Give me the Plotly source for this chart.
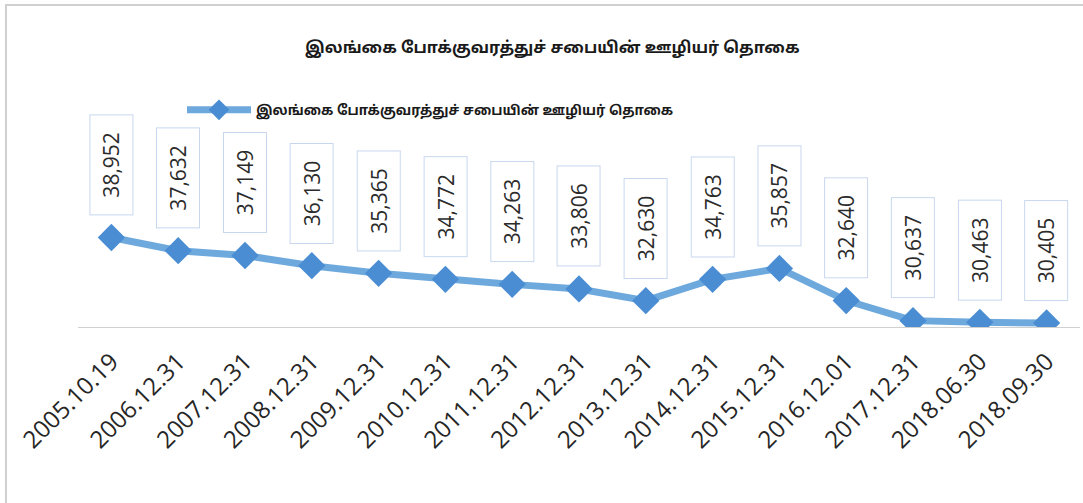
import plotly.graph_objects as go

dates = ["2005.10.19", "2006.12.31", "2007.12.31", "2008.12.31", "2009.12.31",
         "2010.12.31", "2011.12.31", "2012.12.31", "2013.12.31", "2014.12.31",
         "2015.12.31", "2016.12.01", "2017.12.31", "2018.06.30", "2018.09.30"]
employees = [38952, 37632, 37149, 36130, 35365, 34772, 34263, 33806, 32630,
             34763, 35857, 32640, 30637, 30463, 30405]
series_name = "இலங்கை போக்குவரத்துச் சபையின் ஊழியர் தொகை"
title_text = "இலங்கை போக்குவரத்துச் சபையின் ஊழியர் தொகை"

W, H = 1083, 503
ML, MR, MT, MB = 78, 3, 127, 176
PW = W - ML - MR
PH = H - MT - MB


def px_x(px):
    return (px - ML) / PW


def px_y(py):
    return (H - MB - py) / PH


tamil_font = "Noto Sans Tamil, Lohit Tamil, Latha, sans-serif"

fig = go.Figure()
fig.add_trace(go.Scatter(
    x=dates, y=employees, mode="lines+markers", name=series_name,
    line=dict(color="#6EA9DD", width=7),
    marker=dict(symbol="diamond", size=21, color="#4A8DD3",
                line=dict(color="#4A8DD3", width=0)),
))

annotations = []
for d, v in zip(dates, employees):
    annotations.append(dict(
        x=d, y=v, xref="x", yref="y", text=f"{v:,}", showarrow=False,
        textangle=-90, yanchor="bottom", xanchor="center", yshift=22,
        width=97, height=40, bgcolor="white", bordercolor="#C9D7EE",
        borderwidth=1, font=dict(family="Open Sans, sans-serif", size=21, color="#2b2b2b"),
    ))

fig.update_layout(
    width=W, height=H,
    margin=dict(l=ML, r=MR, t=MT, b=MB, autoexpand=False),
    paper_bgcolor="white", plot_bgcolor="white",
    title=dict(text=f"<b>{title_text}</b>", x=0.51, xanchor="center",
               y=1 - 47 / H, yanchor="middle", yref="container",
               font=dict(family=tamil_font, size=16, color="#1a1a1a")),
    showlegend=True,
    legend=dict(orientation="h", x=px_x(182), xanchor="left", y=px_y(110), yanchor="middle",
                itemwidth=64,
                font=dict(family=tamil_font, size=13.5, color="#1a1a1a", weight="bold"),
                bgcolor="rgba(0,0,0,0)"),
    xaxis=dict(type="category", range=[-0.5, len(dates) - 0.5], showgrid=False,
               showline=True, linecolor="#D0D0D0", linewidth=1, ticks="",
               tickangle=-45, ticklabelstandoff=10, automargin=False,
               tickfont=dict(family="Open Sans, sans-serif", size=24, color="#262626"),
               zeroline=False, fixedrange=True),
    yaxis=dict(range=[30000, 50000], visible=False, showgrid=False, zeroline=False,
               automargin=False),
    annotations=annotations,
    shapes=[dict(type="rect", xref="paper", yref="paper",
                 x0=px_x(6), x1=px_x(1095), y0=px_y(520), y1=px_y(5),
                 line=dict(color="#D0D0D0", width=2), fillcolor="rgba(0,0,0,0)", layer="below")],
)

fig.write_html("out.html", config={"displayModeBar": False},
               post_script="document.body.style.margin='0';document.body.style.overflow='hidden';")
